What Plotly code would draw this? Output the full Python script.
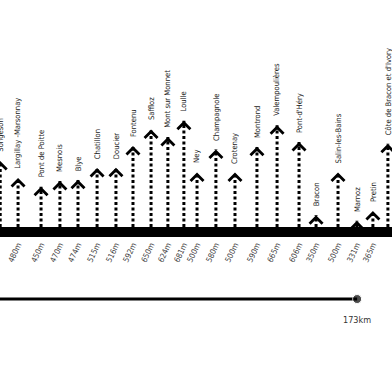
import plotly.graph_objects as go

# ---- data -------------------------------------------------------------
stops = ["Songeson", "Largillay -Marsonnay", "Pont de Poitte", "Mesnois", "Blye",
         "Chatillon", "Doucier", "Fontenu", "Saffloz", "Mont sur Monnet", "Loulle",
         "Ney", "Champagnole", "Crotenay", "Montrond", "Valempoulières",
         "Pont-d'Héry", "Bracon", "Salin-les-Bains", "Marnoz", "Pretin",
         "Côte de Bracon et d'Ivory"]
stop_km = [-0.9, 7.8, 19.0, 28.2, 37.0, 46.3, 55.5, 63.8, 72.6, 80.8, 88.6,
           95.0, 104.2, 113.5, 124.2, 134.0, 144.7, 153.0, 163.7, 172.9, 180.7, 188.0]
altitude_m = [540, 480, 450, 470, 474, 515, 516, 592, 650, 624, 681,
              500, 580, 500, 590, 665, 606, 350, 500, 331, 365, 600]
altitude_labels = [f"{a}m" for a in altitude_m]
total_km = 173
total_label = "173km"

Y_BASE = 309
Y_TOP = 1103
X_RANGE = [-1, 190]

FONT = "Liberation Sans Narrow, DejaVu Sans Condensed, Arial Narrow, sans-serif"

fig = go.Figure()

# dotted stems
sx, sy = [], []
for k, a in zip(stop_km, altitude_m):
    sx += [k, k, None]
    sy += [Y_BASE, a, None]
fig.add_trace(go.Scatter(x=sx, y=sy, mode="lines",
                         line=dict(color="black", width=3, dash="3px,2.5px"),
                         hoverinfo="skip", xaxis="x", yaxis="y"))

# distance line
fig.add_trace(go.Scatter(x=[X_RANGE[0], total_km], y=[0, 0], mode="lines+markers",
                         line=dict(color="black", width=3),
                         marker=dict(size=[0, 9], color="black"),
                         hoverinfo="skip", xaxis="x2", yaxis="y2"))

annotations = []
for k, a, name in zip(stop_km, altitude_m, stops):
    annotations.append(dict(x=k, y=a, xref="x", yref="y", text="", showarrow=True,
                            arrowhead=4, arrowsize=1, arrowwidth=2.5, arrowcolor="black",
                            ax=0, ay=6, standoff=0))
    annotations.append(dict(x=k, y=a, xref="x", yref="y", text=name, showarrow=False,
                            textangle=-90, xanchor="center", yanchor="bottom", yshift=7,
                            font=dict(family=FONT, size=7.6, color="#222")))
annotations.append(dict(x=total_km, y=0.165, xref="x", yref="paper", text=total_label,
                        showarrow=False, font=dict(family=FONT, size=9, color="#333")))

fig.update_layout(
    width=392, height=392, margin=dict(l=0, r=0, t=0, b=0),
    paper_bgcolor="white", plot_bgcolor="white", showlegend=False,
    xaxis=dict(range=X_RANGE, domain=[0, 1], anchor="y", showgrid=False, zeroline=False,
               showline=True, linewidth=10, linecolor="black", ticks="",
               tickvals=stop_km, ticktext=altitude_labels, tickangle=-65,
               tickfont=dict(family=FONT, size=8, color="#444")),
    yaxis=dict(range=[Y_BASE, Y_TOP], domain=[0.4209, 1], visible=False),
    xaxis2=dict(matches="x", anchor="y2", visible=False),
    yaxis2=dict(range=[-1, 1], domain=[0.1872, 0.2872], visible=False),
    annotations=annotations,
)

fig.write_html("out.html", config={"displayModeBar": False},
               post_script="document.body.style.margin='0';document.body.style.overflow='hidden';")
